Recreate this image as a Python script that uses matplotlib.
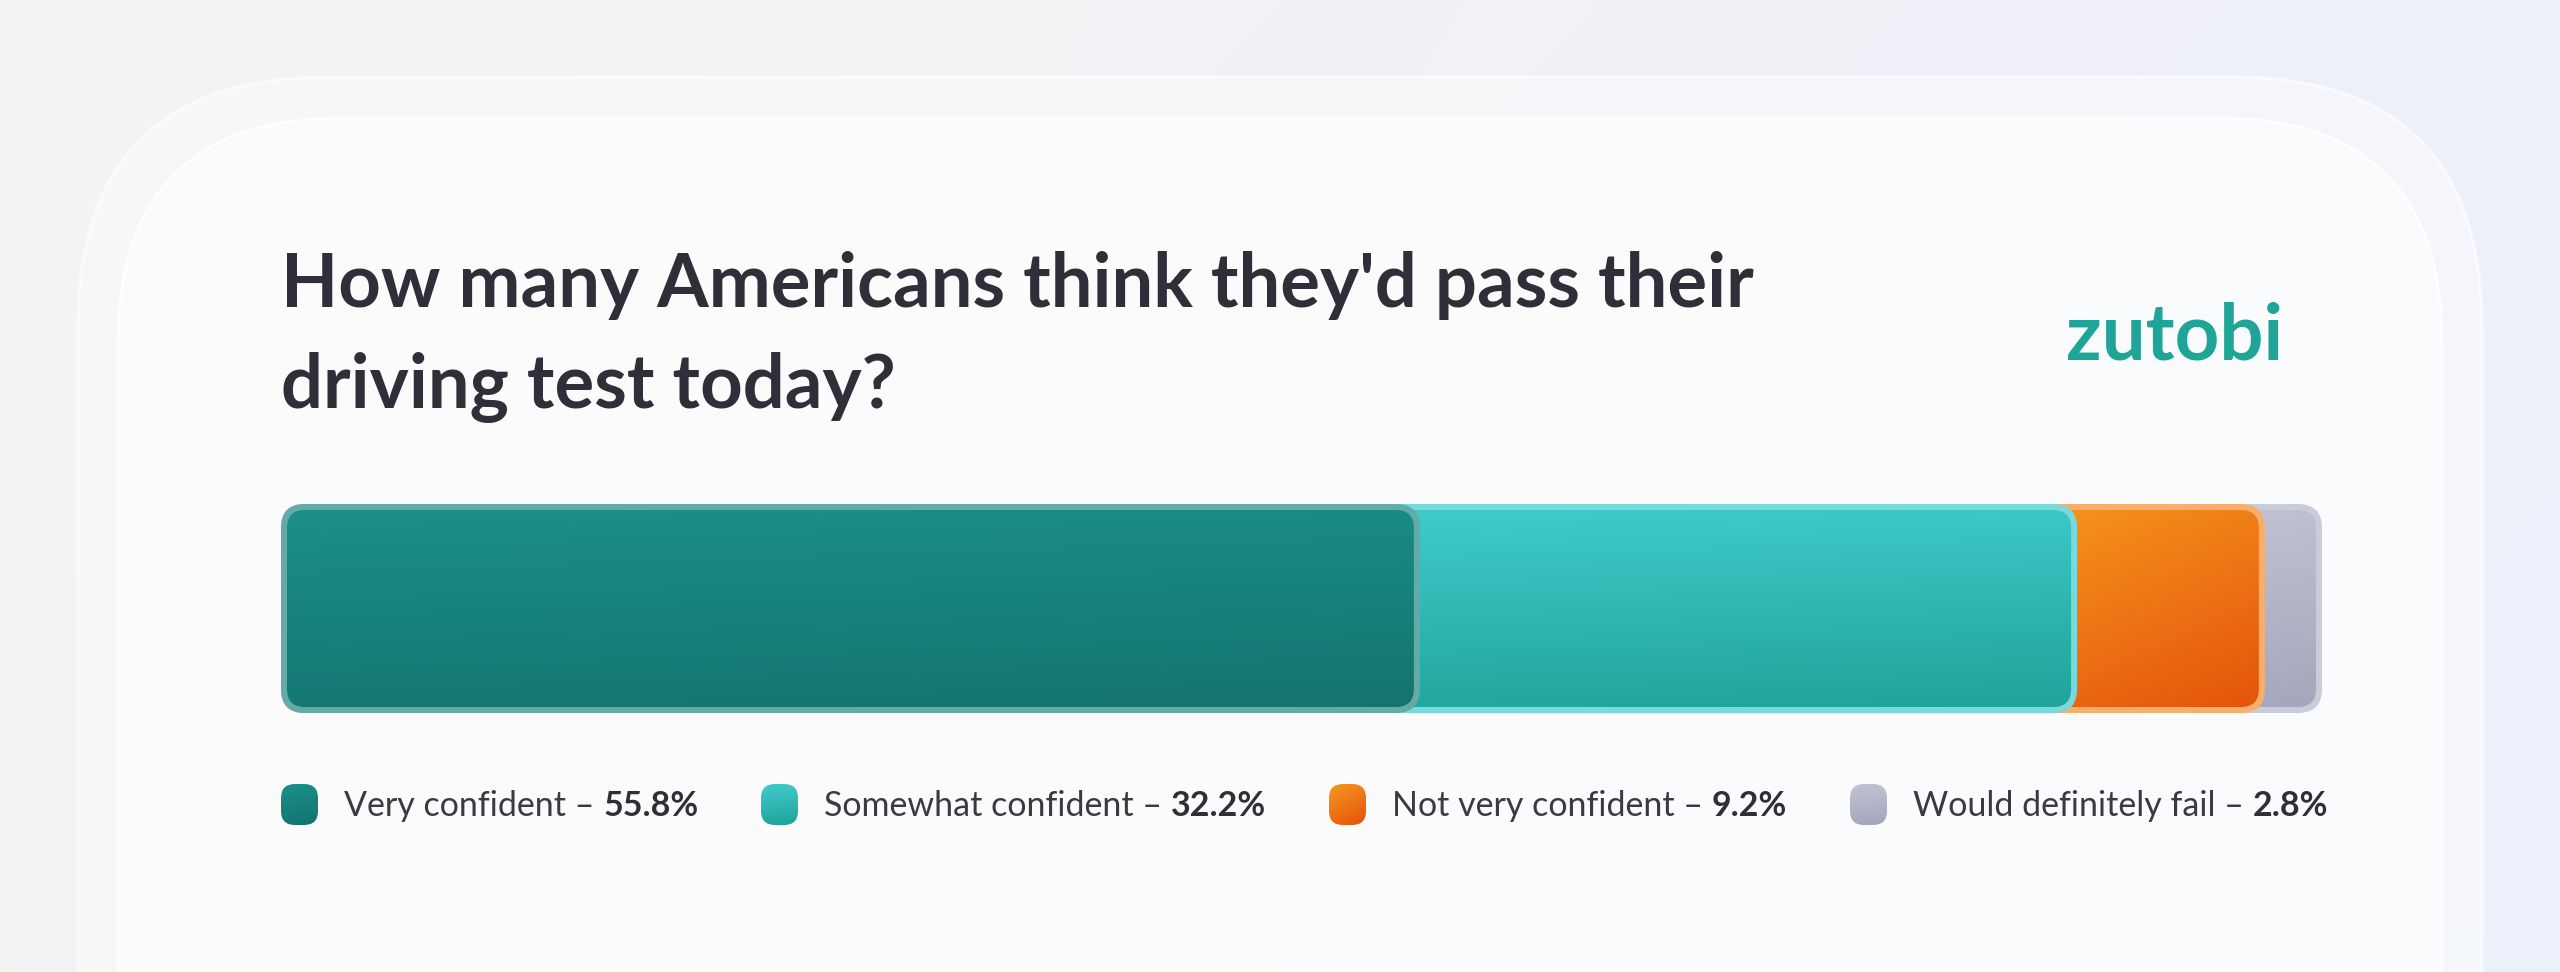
import numpy as np
import matplotlib.pyplot as plt
from matplotlib.patches import FancyBboxPatch
from matplotlib.colors import to_rgb

categories = ['Very confident', 'Somewhat confident', 'Not very confident', 'Would definitely fail']
shares = [55.8, 32.2, 9.2, 2.8]
top_colors = ['#1b9089', '#40cccb', '#f7981f', '#c2c4d4']
bottom_colors = ['#14736e', '#1fa29b', '#e4520a', '#a3a6bc']
edge_colors = ['#63aba7', '#78dada', '#f8ae6c', '#cbccd9']
title_lines = ["How many Americans think they'd pass their", "driving test today?"]
brand = 'zutobi'

W, H = 2560, 972
fig = plt.figure(figsize=(W / 100, H / 100), dpi=100)

# background layer in pixel coordinates (y going down)
bg = fig.add_axes([0, 0, 1, 1])
bg.set_xlim(0, W)
bg.set_ylim(H, 0)
bg.axis('off')

yy, xx = np.mgrid[0:1:60j, 0:1:120j]
c_tl, c_tr = np.array(to_rgb('#f6f3f2')), np.array(to_rgb('#eef0f9'))
c_bl, c_br = np.array(to_rgb('#f3f2f3')), np.array(to_rgb('#ebf1fb'))
img = (c_tl * ((1 - xx) * (1 - yy))[..., None] + c_tr * (xx * (1 - yy))[..., None]
       + c_bl * ((1 - xx) * yy)[..., None] + c_br * (xx * yy)[..., None])
bg.imshow(img, extent=[0, W, H, 0], aspect='auto', interpolation='bicubic', zorder=0)

bg.add_patch(FancyBboxPatch((78, 77), 2404, 1200, boxstyle='round,pad=0,rounding_size=250',
                            fc=(1, 1, 1, 0.45), ec=(1, 1, 1, 0.6), lw=2.5, zorder=1))
bg.add_patch(FancyBboxPatch((118, 118), 2324, 1200, boxstyle='round,pad=0,rounding_size=225',
                            fc=(1, 1, 1, 0.6), ec=(1, 1, 1, 0.9), lw=2, zorder=2))

# title and logo
for line, base in zip(title_lines, [307, 408]):
    bg.text(281, base, line, fontsize=53.5, fontweight='bold', family='Lato',
            color='#2f2f3a', va='baseline', ha='left', zorder=5)
bg.text(2283, 359, brand, fontsize=56, fontweight='bold', family='Lato',
        color='#1fa598', va='baseline', ha='right', zorder=5)


def gradient(top, bottom, diag=0.0, n=64):
    gy, gx = np.mgrid[0:1:n * 1j, 0:1:n * 1j]
    t = np.clip((1 - diag) * gy + diag * gx, 0, 1)[..., None]
    return np.array(to_rgb(top)) * (1 - t) + np.array(to_rgb(bottom)) * t


# stacked bar
bx0, bx1, by0, by1 = 281, 2322, 504, 713
ax = fig.add_axes([bx0 / W, 1 - by1 / H, (bx1 - bx0) / W, (by1 - by0) / H])
px_x = (bx1 - bx0) / 100
px_y = (by1 - by0)
asp = px_x / px_y
rad, bw = 24, 6
ends = np.cumsum(shares)
starts = ends - np.array(shares)
diags = [0.15, 0.1, 0.35, 0.1]

for i in reversed(range(len(shares))):
    z = 10 + (len(shares) - i) * 2
    outer = FancyBboxPatch((0, 0), ends[i], 1,
                           boxstyle=f'round,pad=0,rounding_size={rad / px_x}',
                           mutation_aspect=asp, fc=edge_colors[i], ec='none', zorder=z)
    ax.add_patch(outer)
    inner = FancyBboxPatch((bw / px_x, bw / px_y), ends[i] - 2 * bw / px_x, 1 - 2 * bw / px_y,
                           boxstyle=f'round,pad=0,rounding_size={(rad - bw) / px_x}',
                           mutation_aspect=asp, fc='none', ec='none', zorder=z)
    ax.add_patch(inner)
    x_start = max(0, starts[i] - 3)
    im = ax.imshow(gradient(top_colors[i], bottom_colors[i], diags[i]),
                   extent=[x_start, ends[i], 0, 1], aspect='auto', origin='upper',
                   interpolation='bilinear', zorder=z + 0.5)
    im.set_clip_path(inner)

ax.set_xlim(0, 100)
ax.set_ylim(0, 1)
ax.axis('off')

# legend
marker_x = [281, 761, 1329, 1850]
renderer = fig.canvas.get_renderer()
for i, cat in enumerate(categories):
    mx = marker_x[i]
    box = FancyBboxPatch((mx, 784), 37, 41, boxstyle='round,pad=0,rounding_size=14',
                         fc='none', ec='none', zorder=6)
    bg.add_patch(box)
    im = bg.imshow(gradient(top_colors[i], bottom_colors[i], diags[i]),
                   extent=[mx, mx + 37, 825, 784], aspect='auto', zorder=6)
    im.set_clip_path(box)
    t1 = bg.text(mx + 63, 816, f'{cat} \u2013', fontsize=24.5, family='Lato',
                 color='#3a3a44', va='baseline', ha='left', zorder=6)
    w = t1.get_window_extent(renderer).width
    bg.text(mx + 63 + w + 9, 816, f'{shares[i]:.1f}%', fontsize=24.5, fontweight='bold',
            family='Lato', color='#2f2f3a', va='baseline', ha='left', zorder=6)

bg.set_xlim(0, W)
bg.set_ylim(H, 0)

fig.savefig('out.png', dpi=100)
